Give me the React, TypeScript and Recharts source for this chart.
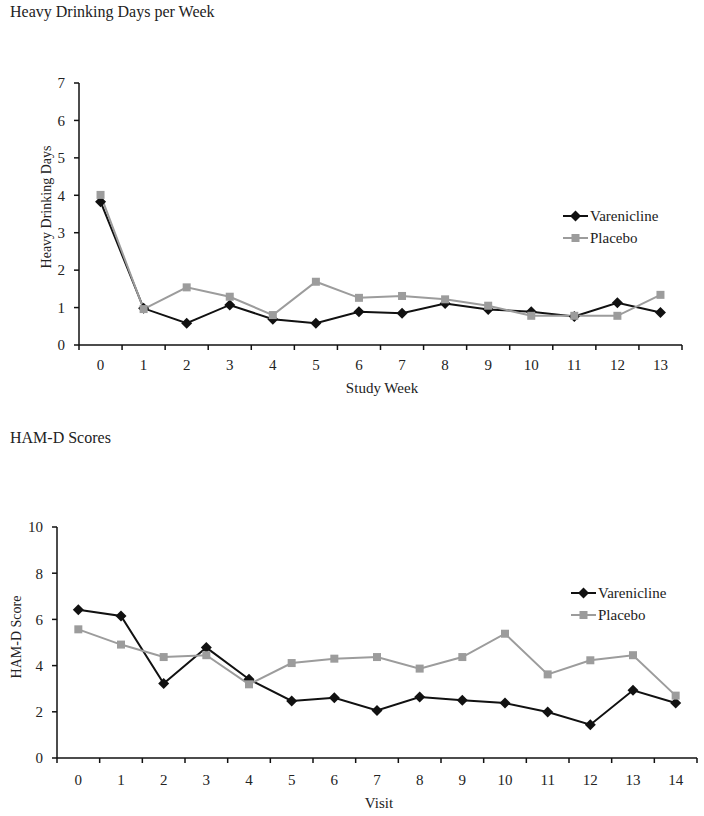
import { LineChart, Line, XAxis, YAxis, Legend } from "recharts";

const weeks = [0, 1, 2, 3, 4, 5, 6, 7, 8, 9, 10, 11, 12, 13];
const vareniclineDays = [3.83, 0.98, 0.58, 1.07, 0.69, 0.58, 0.89, 0.85, 1.11, 0.95, 0.89, 0.76, 1.13, 0.87];
const placeboDays = [4.01, 0.96, 1.54, 1.29, 0.8, 1.69, 1.26, 1.31, 1.22, 1.05, 0.78, 0.78, 0.78, 1.34];
const daysTicks = [0, 1, 2, 3, 4, 5, 6, 7];

const visits = [0, 1, 2, 3, 4, 5, 6, 7, 8, 9, 10, 11, 12, 13, 14];
const vareniclineHamd = [6.42, 6.15, 3.22, 4.78, 3.41, 2.47, 2.61, 2.06, 2.64, 2.5, 2.38, 1.99, 1.44, 2.93, 2.38];
const placeboHamd = [5.57, 4.91, 4.37, 4.45, 3.19, 4.11, 4.3, 4.37, 3.87, 4.37, 5.38, 3.62, 4.23, 4.45, 2.7];
const hamdTicks = [0, 2, 4, 6, 8, 10];

const serif = '"Liberation Serif", "Times New Roman", serif';
const ink = "#111";
const gray = "#9c9c9c";

const Diamond = (props: any) => {
  const { cx, cy } = props;
  if (cx == null || cy == null) return null;
  const r = 5.5;
  return (
    <polygon
      points={`${cx},${cy - r} ${cx + r},${cy} ${cx},${cy + r} ${cx - r},${cy}`}
      fill={ink}
    />
  );
};

const Square = (props: any) => {
  const { cx, cy } = props;
  if (cx == null || cy == null) return null;
  return <rect x={cx - 4} y={cy - 4} width={8} height={8} fill={gray} />;
};

// tick marks sit between categories, like the Excel original
const makeXTick = (half: number, last: number, labelDy: number) => (props: any) => {
  const { x, y, payload } = props;
  return (
    <g>
      <line x1={x - half} x2={x - half} y1={y} y2={y + 5} stroke={ink} strokeWidth={1.5} />
      {payload.value === last && (
        <line x1={x + half} x2={x + half} y1={y} y2={y + 5} stroke={ink} strokeWidth={1.5} />
      )}
      <text x={x} y={y + labelDy} textAnchor="middle" fontSize={15} fill="#222" fontFamily={serif}>
        {payload.value}
      </text>
    </g>
  );
};

const LegendBox = () => (
  <div style={{ fontFamily: serif, fontSize: 15, color: "#222", lineHeight: "22px" }}>
    <div style={{ display: "flex", alignItems: "center" }}>
      <svg width={25} height={14}>
        <line x1={0} x2={25} y1={7} y2={7} stroke={ink} strokeWidth={2} />
        <Diamond cx={12.5} cy={7} />
      </svg>
      <span style={{ marginLeft: 2 }}>Varenicline</span>
    </div>
    <div style={{ display: "flex", alignItems: "center" }}>
      <svg width={25} height={14}>
        <line x1={0} x2={25} y1={7} y2={7} stroke={gray} strokeWidth={2} />
        <Square cx={12.5} cy={7} />
      </svg>
      <span style={{ marginLeft: 2 }}>Placebo</span>
    </div>
  </div>
);

const textStyle = { position: "absolute" as const, fontFamily: serif, color: "#222", whiteSpace: "nowrap" as const };

const Centered = ({ x, y, size, rotate, children }: any) => (
  <div style={{ ...textStyle, left: x, top: y, width: 0, height: 0 }}>
    <span
      style={{
        position: "absolute",
        fontSize: size,
        lineHeight: 1,
        transform: `translate(-50%, -50%)${rotate ? " rotate(-90deg)" : ""}`,
      }}
    >
      {children}
    </span>
  </div>
);

type TrialProps = {
  top: number;
  height: number;
  cats: number[];
  varenicline: number[];
  placebo: number[];
  yMax: number;
  yTicks: number[];
  margin: { top: number; right: number; bottom: number; left: number };
  yWidth: number;
  labelDy: number;
  legendLeft: number;
  legendTop: number;
};

const TrialChart = (p: TrialProps) => {
  const width = 704;
  const data = p.cats.map((c, i) => ({ x: c, varenicline: p.varenicline[i], placebo: p.placebo[i] }));
  const plotW = width - p.margin.right - p.margin.left - p.yWidth;
  const half = plotW / p.cats.length / 2;
  return (
    <div style={{ position: "absolute", left: 0, top: p.top }}>
      <LineChart width={width} height={p.height} data={data} margin={p.margin}>
        <XAxis
          type="number"
          dataKey="x"
          domain={[-0.5, p.cats.length - 0.5]}
          ticks={p.cats}
          interval={0}
          height={30}
          tickLine={false}
          tickSize={0}
          tickMargin={0}
          axisLine={{ stroke: ink, strokeWidth: 1.5 }}
          tick={makeXTick(half, p.cats[p.cats.length - 1], p.labelDy)}
        />
        <YAxis
          type="number"
          domain={[0, p.yMax]}
          ticks={p.yTicks}
          interval={0}
          width={p.yWidth}
          tickSize={5}
          tickMargin={9}
          axisLine={{ stroke: ink, strokeWidth: 1.5 }}
          tickLine={{ stroke: ink, strokeWidth: 1.5 }}
          tick={{ fill: "#222", fontSize: 15, fontFamily: serif }}
        />
        <Legend
          verticalAlign="middle"
          align="center"
          content={() => <LegendBox />}
          wrapperStyle={{ left: p.legendLeft, top: p.legendTop, width: "auto" }}
        />
        <Line
          type="linear"
          dataKey="varenicline"
          name="Varenicline"
          stroke={ink}
          strokeWidth={2}
          dot={<Diamond />}
          activeDot={false}
          isAnimationActive={false}
        />
        <Line
          type="linear"
          dataKey="placebo"
          name="Placebo"
          stroke={gray}
          strokeWidth={2}
          dot={<Square />}
          activeDot={false}
          isAnimationActive={false}
        />
      </LineChart>
    </div>
  );
};

export default function App() {
  return (
    <div style={{ position: "absolute", left: 0, top: 0, width: 704, height: 816, background: "#fff" }}>
      <div style={{ ...textStyle, left: 10, top: 4, fontSize: 16, lineHeight: "16px" }}>
        Heavy Drinking Days per Week
      </div>
      <TrialChart
        top={0}
        height={400}
        cats={weeks}
        varenicline={vareniclineDays}
        placebo={placeboDays}
        yMax={7}
        yTicks={daysTicks}
        margin={{ top: 83, right: 22, bottom: 25, left: 0 }}
        yWidth={79}
        labelDy={25}
        legendLeft={563}
        legendTop={205}
      />
      <Centered x={47} y={207} size={14} rotate>
        Heavy Drinking Days
      </Centered>
      <Centered x={382} y={388} size={15}>
        Study Week
      </Centered>

      <div style={{ ...textStyle, left: 10, top: 430, fontSize: 16, lineHeight: "16px" }}>HAM-D Scores</div>
      <TrialChart
        top={460}
        height={356}
        cats={visits}
        varenicline={vareniclineHamd}
        placebo={placeboHamd}
        yMax={10}
        yTicks={hamdTicks}
        margin={{ top: 67, right: 7, bottom: 28, left: 0 }}
        yWidth={57}
        labelDy={27}
        legendLeft={571}
        legendTop={122}
      />
      <Centered x={17} y={637} size={14} rotate>
        HAM-D Score
      </Centered>
      <Centered x={379} y={803} size={15}>
        Visit
      </Centered>
    </div>
  );
}
